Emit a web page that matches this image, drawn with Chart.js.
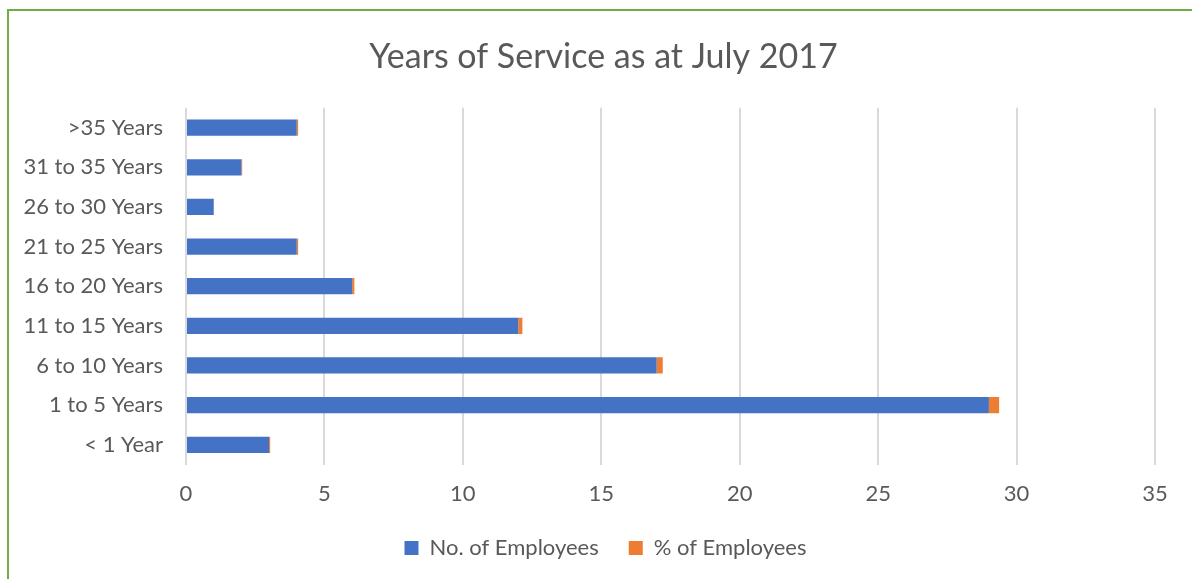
<!DOCTYPE html>
<html>
<head>
<meta charset="utf-8">
<script src="https://cdn.jsdelivr.net/npm/chart.js@4"></script>
<style>
  html, body { margin: 0; padding: 0; background: #fff; }
  #wrap { position: absolute; left: 0; top: 0; width: 1192px; height: 579px; overflow: hidden; }
  #frame { position: absolute; left: 7px; top: 9px; width: 1300px; height: 700px;
           border-left: 2px solid #70AD47; border-top: 2px solid #70AD47; }
  canvas { position: absolute; left: 0; top: 0; }
</style>
</head>
<body>
<div id="wrap">
  <div id="frame"></div>
  <canvas id="c" width="1192" height="579"></canvas>
</div>
<script>
const categories = ["< 1 Year", "1 to 5 Years", "6 to 10 Years", "11 to 15 Years", "16 to 20 Years",
                    "21 to 25 Years", "26 to 30 Years", "31 to 35 Years", ">35 Years"];
const employeeCounts = [3, 29, 17, 12, 6, 4, 1, 2, 4];
const employeeShares = [0.04, 0.37, 0.22, 0.15, 0.08, 0.05, 0.01, 0.03, 0.05];
const xTicks = [0, 5, 10, 15, 20, 25, 30, 35];
const chartTitle = "Years of Service as at July 2017";

const FONT = "Lato, 'Open Sans', sans-serif";
const TXT = "#595959";

// Centre title and legend on the whole frame rather than on the plot span
const shiftBoxes = {
  id: "shiftBoxes",
  afterLayout(chart) {
    const t = chart.titleBlock;
    if (t) { t.left += 26; t.right += 26; }
    const l = chart.legend;
    if (l) { l.left += 28; l.right += 28; }
  }
};

new Chart(document.getElementById("c"), {
  type: "bar",
  data: {
    labels: categories,
    datasets: [
      { label: "No. of Employees", data: employeeCounts, backgroundColor: "#4472C4",
        categoryPercentage: 1, barPercentage: 0.41 },
      { label: "% of Employees", data: employeeShares, backgroundColor: "#ED7D31",
        categoryPercentage: 1, barPercentage: 0.41 }
    ]
  },
  plugins: [shiftBoxes],
  options: {
    responsive: false,
    animation: false,
    indexAxis: "y",
    layout: { padding: { left: 0, right: 37, top: 0, bottom: 10 } },
    plugins: {
      tooltip: { enabled: false },
      title: {
        display: true, text: chartTitle, color: TXT,
        font: { family: FONT, size: 34, weight: "normal" },
        padding: { top: 37, bottom: 30 }
      },
      legend: {
        position: "bottom",
        labels: {
          color: TXT, font: { family: FONT, size: 22 },
          boxWidth: 14, boxHeight: 14, padding: 30
        }
      }
    },
    scales: {
      x: {
        stacked: true, min: 0, max: 35,
        afterBuildTicks: (s) => { s.ticks = xTicks.map(v => ({ value: v })); },
        afterFit: (s) => { s.height -= 16; },
        ticks: { color: TXT, font: { family: FONT, size: 22 }, padding: 16 },
        grid: { color: "#d9d9d9", lineWidth: 2, drawTicks: false },
        border: { display: false }
      },
      y: {
        stacked: true, reverse: true,
        afterFit: (s) => { s.width = 186; },
        ticks: { color: TXT, font: { family: FONT, size: 22 }, padding: 23 },
        grid: { display: false, drawTicks: false },
        border: { display: false }
      }
    }
  }
});
</script>
</body>
</html>
